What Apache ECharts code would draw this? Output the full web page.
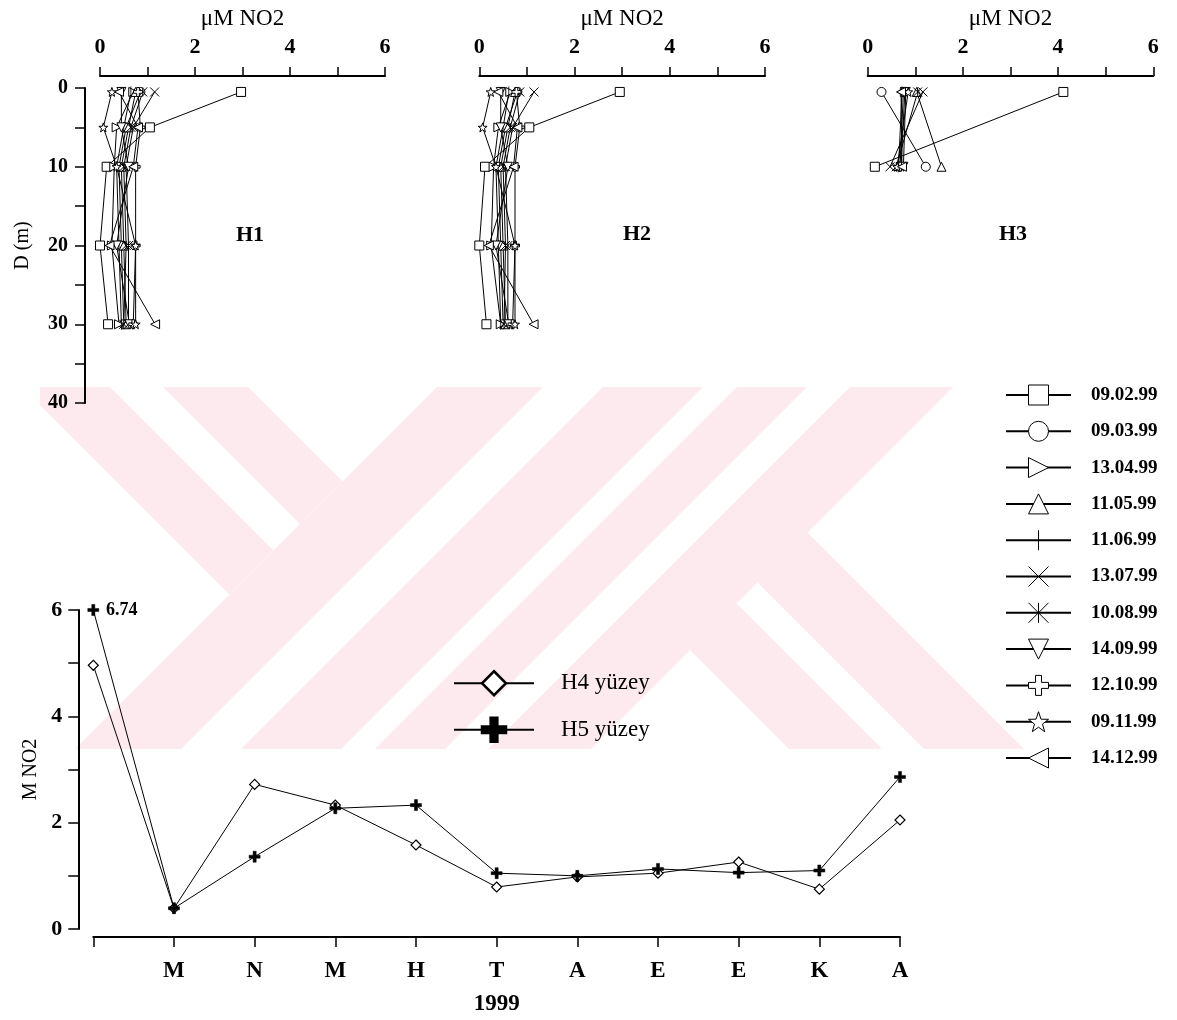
<!DOCTYPE html>
<html><head><meta charset="utf-8">
<script src="https://cdn.jsdelivr.net/npm/echarts@6/dist/echarts.min.js"></script>
<style>html,body{margin:0;padding:0;background:#fff}#c{width:1177px;height:1020px}</style>
</head><body><div id="c"></div>
<script>
// ---------------- DATA ----------------
const dates = ['09.02.99','09.03.99','13.04.99','11.05.99','11.06.99','13.07.99','10.08.99','14.09.99','12.10.99','09.11.99','14.12.99'];
const depths = [0.5, 5, 10, 20, 30];
const depthsH3 = [0.5, 10];
// µM NO2 per date (rows) at each depth (columns)
const h1 = [
  [2.97, 1.05, 0.14, 0.00, 0.17],
  [0.85, 0.55, 0.40, 0.45, 0.50],
  [0.70, 0.35, 0.30, 0.25, 0.40],
  [0.75, 0.60, 0.45, 0.50, 0.55],
  [0.65, 0.50, 0.35, 0.40, 0.45],
  [1.15, 0.70, 0.55, 0.60, 0.60],
  [0.90, 0.65, 0.50, 0.55, 0.50],
  [0.45, 0.45, 0.60, 0.35, 0.62],
  [0.80, 0.85, 0.75, 0.75, 0.70],
  [0.25, 0.07, 0.35, 0.75, 0.75],
  [0.40, 0.80, 0.70, 0.20, 1.16]
];
const h2 = [
  [2.95, 1.05, 0.12, 0.00, 0.15],
  [0.80, 0.55, 0.40, 0.45, 0.50],
  [0.65, 0.40, 0.30, 0.25, 0.45],
  [0.75, 0.60, 0.45, 0.50, 0.55],
  [0.62, 0.50, 0.35, 0.40, 0.45],
  [1.15, 0.70, 0.55, 0.60, 0.60],
  [0.85, 0.65, 0.50, 0.55, 0.52],
  [0.45, 0.45, 0.60, 0.35, 0.62],
  [0.78, 0.85, 0.75, 0.75, 0.70],
  [0.24, 0.07, 0.35, 0.75, 0.75],
  [0.40, 0.80, 0.72, 0.20, 1.14]
];
const h3 = [
  [4.11, 0.15],
  [0.29, 1.22],
  [0.78, 0.70],
  [1.03, 1.55],
  [0.72, 0.65],
  [1.16, 0.47],
  [1.05, 0.60],
  [0.80, 0.75],
  [0.75, 0.68],
  [0.85, 0.62],
  [0.70, 0.72]
];
const months = ['', 'M', 'N', 'M', 'H', 'T', 'A', 'E', 'E', 'K', 'A'];
const h4Surface = [4.96, 0.39, 2.72, 2.33, 1.58, 0.79, 0.98, 1.05, 1.26, 0.75, 2.05];
const h5Surface = [6.74, 0.39, 1.36, 2.27, 2.33, 1.05, 1.00, 1.13, 1.06, 1.10, 2.86];
const panelNames = ['H1', 'H2', 'H3'];
const seriesNames = ['H4 yüzey', 'H5 yüzey'];

// ---------------- STYLE ----------------
const SERIF = 'Liberation Serif';
const symbols = [
  'rect',
  'circle',
  'path://M0 0L10 5L0 10Z',
  'triangle',
  'path://M0 0L0 0M5 0L5 10M10 10L10 10',
  'path://M0 0L10 10M10 0L0 10',
  'path://M0 0L10 10M10 0L0 10M5 0L5 10',
  'path://M0 0L10 0L5 10Z',
  'path://M3.5 0L6.5 0L6.5 3.5L10 3.5L10 6.5L6.5 6.5L6.5 10L3.5 10L3.5 6.5L0 6.5L0 3.5L3.5 3.5Z',
  'path://M5 0L6.18 3.38L9.76 3.45L6.9 5.62L7.94 9.05L5 7L2.06 9.05L3.1 5.62L0.24 3.45L3.82 3.38Z',
  'path://M10 0L0 5L10 10Z'
];
const CROSS_FILLED = 'path://M3.6 0L6.4 0L6.4 3.6L10 3.6L10 6.4L6.4 6.4L6.4 10L3.6 10L3.6 6.4L0 6.4L0 3.6L3.6 3.6Z';
const Y_TOP_MAX = 6;

const topGrids = [
  {left: 100, top: 88, width: 285, height: 315},
  {left: 479.3, top: 88, width: 285.7, height: 315},
  {left: 867.7, top: 88, width: 285.6, height: 315}
];
const bottomGrid = {left: 93.3, top: 610, width: 806.7, height: 319};

function topXAxis(i) {
  return {
    type: 'value', gridIndex: i, position: 'top', offset: 12,
    min: 0, max: 6, interval: 1,
    axisLine: {show: true, onZero: false, lineStyle: {color: '#000', width: 2}},
    axisTick: {show: true, length: 9, lineStyle: {color: '#000', width: 1.5}},
    axisLabel: {margin: 18, color: '#000', fontFamily: SERIF, fontWeight: 'bold', fontSize: 22,
      formatter: v => (v % 2 === 0 ? String(v) : '')},
    splitLine: {show: false},
    name: 'μM NO2', nameLocation: 'middle', nameGap: 46,
    nameTextStyle: {color: '#000', fontFamily: SERIF, fontSize: 23}
  };
}
function topYAxis(i) {
  const base = {
    type: 'value', gridIndex: i, inverse: true, min: 0, max: 40, interval: 5,
    splitLine: {show: false}
  };
  if (i !== 0) return Object.assign(base, {show: false});
  return Object.assign(base, {
    position: 'left', offset: 15,
    axisLine: {show: true, onZero: false, lineStyle: {color: '#000', width: 2}},
    axisTick: {show: true, length: 10, lineStyle: {color: '#000', width: 1.5}},
    axisLabel: {margin: 17, color: '#000', fontFamily: SERIF, fontWeight: 'bold', fontSize: 20,
      formatter: v => (v % 10 === 0 ? String(v) : '')},
    name: 'D (m)', nameLocation: 'middle', nameGap: 52,
    nameTextStyle: {color: '#000', fontFamily: SERIF, fontSize: 20}
  });
}

const series = [];
const panels = [[h1, depths], [h2, depths], [h3, depthsH3]];
panels.forEach(([tbl, dep], p) => {
  tbl.forEach((row, i) => {
    series.push({
      type: 'line', name: dates[i], xAxisIndex: p, yAxisIndex: p,
      data: row.map((v, k) => [v, dep[k]]),
      symbol: symbols[i], symbolSize: i === 4 ? [8, 11] : 9,
      itemStyle: {color: '#fff', borderColor: '#000', borderWidth: 1},
      lineStyle: {color: '#000', width: 1},
      emphasis: {disabled: true}, z: 3
    });
  });
});
series.push({
  type: 'line', name: seriesNames[0], xAxisIndex: 3, yAxisIndex: 3,
  data: h4Surface,
  symbol: 'diamond', symbolSize: 10,
  itemStyle: {color: '#fff', borderColor: '#000', borderWidth: 1.2},
  lineStyle: {color: '#000', width: 1}, emphasis: {disabled: true}, z: 3
});
series.push({
  type: 'line', name: seriesNames[1], xAxisIndex: 3, yAxisIndex: 3,
  data: h5Surface.map(v => v > Y_TOP_MAX
    ? {value: Y_TOP_MAX, label: {show: true, position: 'right', distance: 7, formatter: String(v),
        color: '#000', fontFamily: SERIF, fontWeight: 'bold', fontSize: 18}}
    : v),
  symbol: CROSS_FILLED, symbolSize: 11,
  itemStyle: {color: '#000', borderColor: '#000', borderWidth: 0.5},
  lineStyle: {color: '#000', width: 1}, emphasis: {disabled: true}, z: 4
});

// ---------------- WATERMARK (decorative background) ----------------
function clip(poly, a, b, k) {
  const out = [];
  for (let i = 0; i < poly.length; i++) {
    const P = poly[i], Q = poly[(i + 1) % poly.length];
    const fp = a * P[0] + b * P[1] - k, fq = a * Q[0] + b * Q[1] - k;
    if (fp <= 0) out.push(P);
    if ((fp < 0 && fq > 0) || (fp > 0 && fq < 0)) {
      const t = fp / (fp - fq);
      out.push([P[0] + t * (Q[0] - P[0]), P[1] + t * (Q[1] - P[1])]);
    }
  }
  return out;
}
const band = [[40, 387], [1070, 387], [1070, 749], [40, 749]];
// c = x - y, d = x + y
const wmRegions = [
  {c: [-365, -277], d: [null, 824]},
  {c: [-224, -139], d: [null, 824]},
  {d: [824, 930]},
  {d: [990, 1090]},
  {d: [1124, 1194]},
  {d: [1237, 1340]},
  {c: [40, 133], d: [1340, null]},
  {c: [175, 275], d: [1340, null]}
];
const wmGraphics = wmRegions.map(r => {
  let poly = band.slice();
  if (r.c) {
    if (r.c[0] != null) poly = clip(poly, -1, 1, -r.c[0]);
    if (r.c[1] != null) poly = clip(poly, 1, -1, r.c[1]);
  }
  if (r.d) {
    if (r.d[0] != null) poly = clip(poly, -1, -1, -r.d[0]);
    if (r.d[1] != null) poly = clip(poly, 1, 1, r.d[1]);
  }
  return {type: 'polygon', silent: true, z: -100, shape: {points: poly},
    style: {fill: 'rgb(253,234,238)'}};
});
const panelLabelPos = [[250, 235], [637, 234], [1013, 234]];
const labelGraphics = panelNames.map((n, i) => ({
  type: 'text', silent: true, z: 10, x: panelLabelPos[i][0], y: panelLabelPos[i][1],
  style: {text: n, fill: '#000', font: 'bold 22px "Liberation Serif"', align: 'center', verticalAlign: 'middle'}
}));

const option = {
  backgroundColor: '#fff',
  animation: false,
  grid: [...topGrids, bottomGrid],
  xAxis: [topXAxis(0), topXAxis(1), topXAxis(2), {
    type: 'category', gridIndex: 3, data: months, boundaryGap: false,
    position: 'bottom', offset: 8,
    axisLine: {show: true, onZero: false, lineStyle: {color: '#000', width: 2}},
    axisTick: {show: true, length: 10, lineStyle: {color: '#000', width: 1.5}},
    axisLabel: {margin: 23, color: '#000', fontFamily: SERIF, fontWeight: 'bold', fontSize: 23, interval: 0},
    splitLine: {show: false},
    name: '1999', nameLocation: 'middle', nameGap: 56,
    nameTextStyle: {color: '#000', fontFamily: SERIF, fontWeight: 'bold', fontSize: 23}
  }],
  yAxis: [topYAxis(0), topYAxis(1), topYAxis(2), {
    type: 'value', gridIndex: 3, min: 0, max: Y_TOP_MAX, interval: 1, offset: 15,
    axisLine: {show: true, onZero: false, lineStyle: {color: '#000', width: 2}},
    axisTick: {show: true, length: 10, lineStyle: {color: '#000', width: 1.5}},
    axisLabel: {margin: 16, color: '#000', fontFamily: SERIF, fontWeight: 'bold', fontSize: 22,
      formatter: v => (v % 2 === 0 ? String(v) : '')},
    splitLine: {show: false},
    name: 'M NO2', nameLocation: 'middle', nameGap: 36,
    nameTextStyle: {color: '#000', fontFamily: SERIF, fontSize: 20}
  }],
  legend: [{
    data: dates, orient: 'vertical', left: 1005, top: 384.5, padding: 0,
    itemWidth: 65, itemHeight: 25, itemGap: 15.3, selectedMode: false,
    itemStyle: {borderWidth: 1},
    textStyle: {color: '#000', fontFamily: SERIF, fontWeight: 'bold', fontSize: 19, padding: [0, 0, 0, 15]}
  }, {
    data: seriesNames, orient: 'vertical', left: 453, top: 670, padding: 0,
    itemWidth: 80, itemHeight: 30, itemGap: 20, selectedMode: false,
    itemStyle: {borderWidth: 2.5},
    textStyle: {color: '#000', fontFamily: SERIF, fontSize: 23, padding: [0, 0, 0, 22]}
  }],
  graphic: [...wmGraphics, ...labelGraphics],
  series
};
const chart = echarts.init(document.getElementById('c'), null, {renderer: 'canvas'});
chart.setOption(option);
</script>
</body></html>
